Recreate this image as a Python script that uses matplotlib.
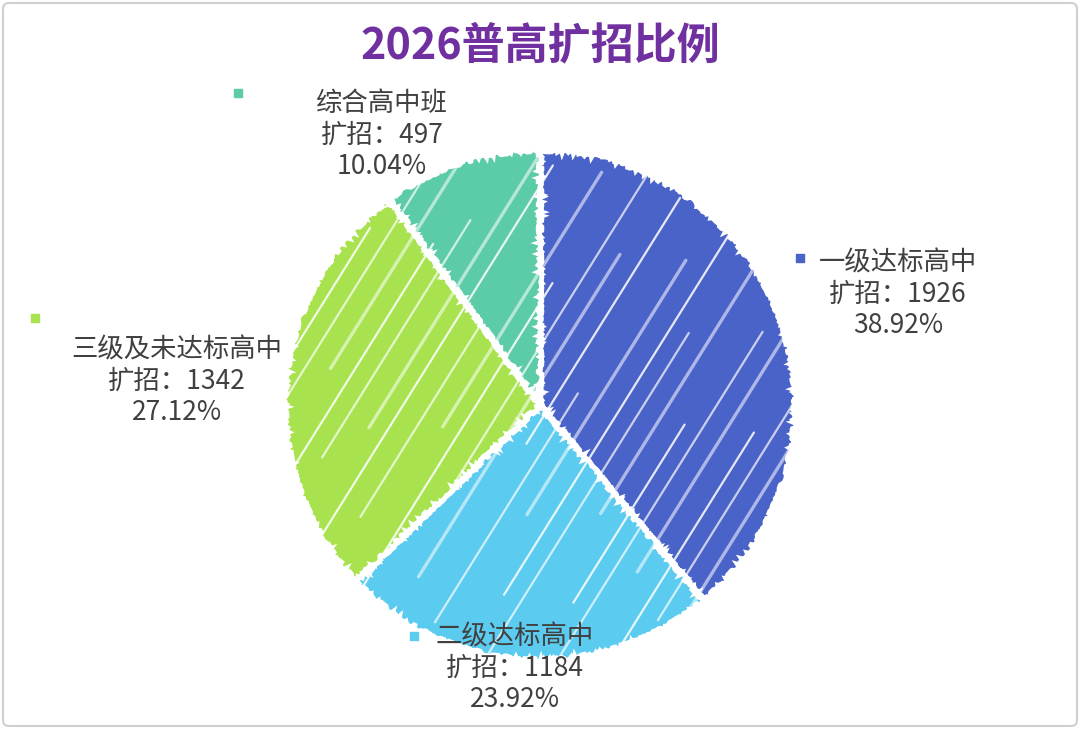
import numpy as np
import matplotlib.pyplot as plt
from matplotlib.patches import FancyBboxPatch

plt.rcParams['font.family'] = ['Noto Sans CJK SC', 'DejaVu Sans']

categories = ["一级达标高中", "二级达标高中", "三级及未达标高中", "综合高中班"]
values = [1926, 1184, 1342, 497]
percents = ["38.92%", "23.92%", "27.12%", "10.04%"]
colors = ["#4a63c8", "#5ccbf0", "#a8e34f", "#5ccba8"]

# label anchor (text centre) and marker square, in pixels from top-left
label_pos = [(898, 294), (515, 668), (177, 381), (382, 135)]
marker_pos = [(800, 258), (414, 636), (35, 318), (238, 93)]

# decorative scribble streaks: offset across the pie, start/end along the stroke
streak_off = [-235, -214, -196, -171, -150, -133, -109, -88, -70, -47, -26, -9,
              12, 31, 54, 71, 93, 116, 133, 157, 176, 197, 219, 238]
streak_t0 = [-200, -120, -260, -90, -230, -150, -60, -250, -180, -100, -240, -40,
             -210, -130, -260, -70, -190, -230, -110, -160, -250, -80, -140, -200]
streak_t1 = [150, 260, 90, 240, 180, 60, 250, 140, 260, 200, 30, 250,
             170, 260, 110, 230, 40, 210, 260, 120, 80, 250, 160, 60]

W, H = 1080, 729
CX, CY, R = 540, H - 405, 255
fig = plt.figure(figsize=(W / 100, H / 100), dpi=100)
ax = fig.add_axes([0, 0, 1, 1])

wedges, _ = ax.pie(values, colors=colors, startangle=90, counterclock=False,
                   center=(CX, CY), radius=R, explode=[0.03, 0, 0, 0],
                   wedgeprops=dict(edgecolor="white", linewidth=3.5))
for w in wedges:
    w.set_sketch_params(scale=1.8, length=10, randomness=30)

# white streaks at ~60 degrees, clipped to each slice
d = np.array([np.cos(np.radians(58)), np.sin(np.radians(58))])
n = np.array([-d[1], d[0]])
for w in wedges:
    for k, (o, t0, t1) in enumerate(zip(streak_off, streak_t0, streak_t1)):
        p0 = np.array([CX, CY]) + o * n + t0 * d
        p1 = np.array([CX, CY]) + o * n + t1 * d
        ln, = ax.plot([p0[0], p1[0]], [p0[1], p1[1]], color="white",
                      lw=1.6 if k % 3 else 2.4, alpha=0.55 + 0.15 * (k % 3),
                      solid_capstyle="round")
        ln.set_clip_path(w)

ax.set_xlim(0, W)
ax.set_ylim(0, H)
ax.set_aspect('equal')
ax.axis('off')

# light frame round the picture
ax.add_patch(FancyBboxPatch((3, 3), W - 6, H - 6, boxstyle="round,pad=0,rounding_size=6",
                            fc="none", ec="#cfcfcf", lw=1.5))

for cat, val, pct, (lx, ly), (mx, my), c in zip(categories, values, percents,
                                                label_pos, marker_pos, colors):
    ax.text(lx, H - ly, f"{cat}\n扩招：{val}\n{pct}", ha="center", va="center",
            fontsize=19, color="#404040", linespacing=1.2)
    ax.scatter([mx], [H - my], marker="s", s=40, color=c)

ax.text(540, H - 45, "2026普高扩招比例", ha="center", va="center",
        fontsize=31, fontweight="bold", color="#7030a0")

fig.savefig("out.png", dpi=100)
